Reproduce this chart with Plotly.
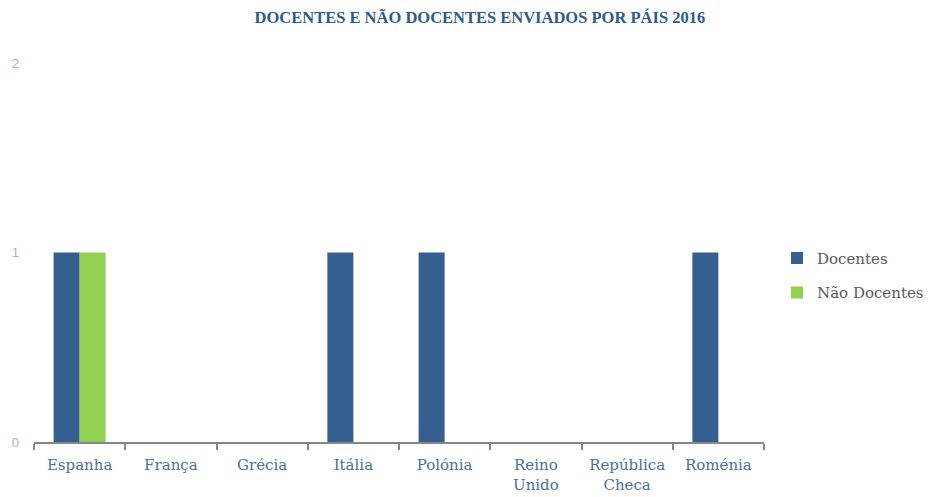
import plotly.graph_objects as go

paises = ["Espanha", "França", "Grécia", "Itália", "Polónia",
          "Reino<br>Unido", "República<br>Checa", "Roménia"]
docentes = [1, 0, 0, 1, 1, 0, 0, 1]
nao_docentes = [1, 0, 0, 0, 0, 0, 0, 0]
y_ticks = [0, 1, 2]

fig = go.Figure()
fig.add_trace(go.Bar(x=paises, y=docentes, name="Docentes",
                     marker_color="#355F91", marker_line_width=0, legendgroup="a"))
fig.add_trace(go.Bar(x=paises, y=nao_docentes, name="Não Docentes",
                     marker_color="#92D050", marker_line_width=0, legendgroup="b"))

fig.update_layout(
    width=930, height=497,
    plot_bgcolor="white", paper_bgcolor="white",
    margin=dict(l=34, r=166, t=63, b=55),
    barmode="group", bargap=0.43, bargroupgap=0,
    title=dict(text="<b>DOCENTES E NÃO DOCENTES ENVIADOS POR PÁIS 2016</b>",
               x=0.516, xanchor="center", y=0.965, yanchor="middle",
               font=dict(family="Liberation Serif", size=16.5, color="#2E5A8E")),
    legend=dict(xref="container", x=0.8355, y=0.44, xanchor="left", yanchor="middle",
                itemwidth=30, traceorder="grouped", tracegroupgap=12,
                font=dict(family="DejaVu Serif", size=15, color="#595959")),
    xaxis=dict(showline=True, linecolor="#868686", linewidth=2,
               ticks="outside", tickson="boundaries", ticklen=6,
               tickcolor="#868686", tickwidth=2, showgrid=False,
               ticklabelstandoff=8, automargin=False,
               tickfont=dict(family="DejaVu Serif", size=15, color="#4A6F9E")),
    yaxis=dict(range=[0, 2], tickvals=y_ticks, showgrid=False, zeroline=False,
               showline=False, ticklabelstandoff=14, automargin=False,
               tickfont=dict(family="Liberation Sans", size=13, color="#95B3D7")),
)

fig.write_html("out.html", config={"displayModeBar": False},
               post_script="document.body.style.margin='0px';")
